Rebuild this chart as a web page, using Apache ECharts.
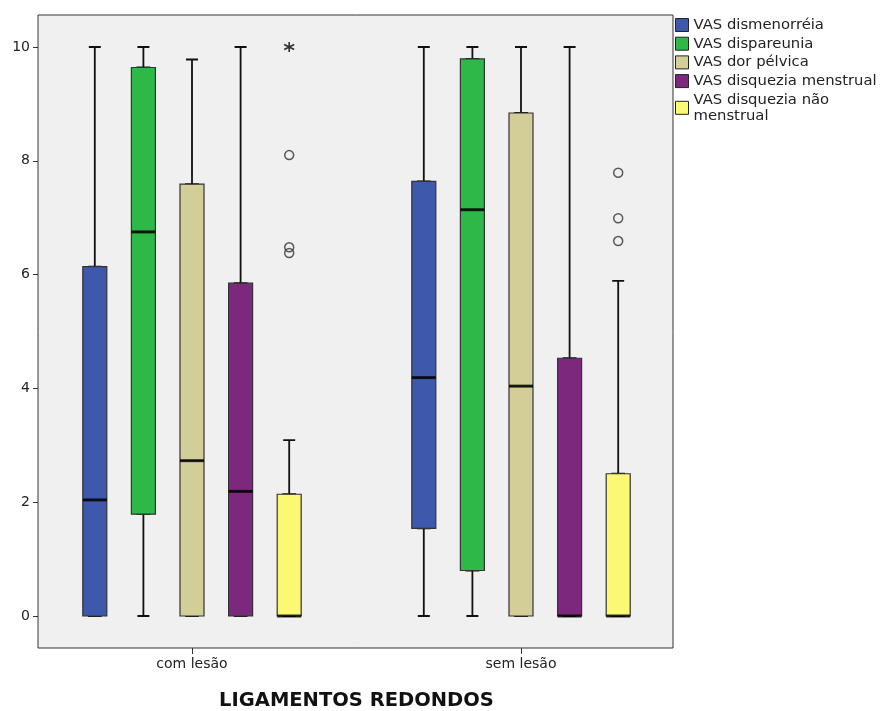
<!DOCTYPE html>
<html><head><meta charset="utf-8">
<script src="https://cdn.jsdelivr.net/npm/echarts@6/dist/echarts.min.js"></script>
<style>html,body{margin:0;padding:0;background:#fff}#c{width:880px;height:711px}</style>
</head><body><div id="c"></div>
<script>
// ---- data ----
const categories = ['com lesão', 'sem lesão'];
const seriesNames = ['VAS dismenorréia', 'VAS dispareunia', 'VAS dor pélvica', 'VAS disquezia menstrual', 'VAS disquezia não\nmenstrual'];
// [min, Q1, median, Q3, max] for each category
const vasDismenorreia = [[0, 0, 2.04, 6.14, 10], [0, 1.54, 4.19, 7.64, 10]];
const vasDispareunia = [[0, 1.79, 6.75, 9.64, 10], [0, 0.8, 7.14, 9.79, 10]];
const vasDorPelvica = [[0, 0, 2.73, 7.59, 9.78], [0, 0, 4.04, 8.84, 10]];
const vasDisqMenstrual = [[0, 0, 2.19, 5.85, 10], [0, 0, 0, 4.53, 10]];
const vasDisqNaoMenstrual = [[0, 0, 0, 2.14, 3.09], [0, 0, 0, 2.5, 5.89]];
const outlierCategory = ['com lesão', 'com lesão', 'com lesão', 'sem lesão', 'sem lesão', 'sem lesão'];
const outlierValues = [8.1, 6.48, 6.38, 7.79, 6.99, 6.59];
const extremeCategory = ['com lesão'];
const extremeValues = [10];
const yMin = 0, yMax = 10, yStep = 2;
const xTitle = 'LIGAMENTOS REDONDOS';

// ---- styling / layout ----
const allSeries = [vasDismenorreia, vasDispareunia, vasDorPelvica, vasDisqMenstrual, vasDisqNaoMenstrual];
const colors = ['#3e58ac', '#2eb848', '#d3ce97', '#7c287d', '#fbf873'];
const FONT = 'DejaVu Sans';
const groupLeft = 192, groupSpan = 329, boxStep = 48.6;
const dataTop = 47, dataHeight = 569;
const frame = {left: 38, right: 207, top: 15, bottom: 63};
const boxW = 24, capW = 12;

const grids = [], xAxes = [], yAxes = [], series = [];
allSeries.forEach((arr, i) => {
  grids.push({left: groupLeft + (i - 2) * boxStep, width: groupSpan, top: dataTop, height: dataHeight, outerBoundsMode: 'none'});
  xAxes.push({gridIndex: i, type: 'category', data: categories, boundaryGap: false, show: false});
  xAxes.push({gridIndex: i, type: 'category', data: categories, boundaryGap: false, show: false});
  yAxes.push({gridIndex: i, type: 'value', min: yMin, max: yMax, show: false, splitLine: {show: false}});

  series.push({
    name: 'whisker' + i, type: 'boxplot', xAxisIndex: 2 * i + 1, yAxisIndex: i,
    boxWidth: [capW, capW], data: arr, z: 2, silent: true,
    itemStyle: {color: 'rgba(0,0,0,0)', borderColor: '#111', borderWidth: 1.8},
    emphasis: {disabled: true}
  });
  series.push({
    name: seriesNames[i], type: 'boxplot', xAxisIndex: 2 * i, yAxisIndex: i,
    boxWidth: [boxW, boxW], data: arr.map(d => [d[1], d[1], d[2], d[3], d[3]]), z: 3, silent: true,
    itemStyle: {color: colors[i], borderColor: '#333', borderWidth: 1.2},
    emphasis: {disabled: true}
  });
  series.push({
    name: 'median' + i, type: 'scatter', xAxisIndex: 2 * i, yAxisIndex: i,
    symbol: 'rect', symbolSize: [boxW, 3], z: 4, silent: true,
    data: arr.map((d, j) => [categories[j], d[2]]),
    itemStyle: {color: '#000'}
  });
});
// outliers belong to the yellow series (index 4)
series.push({
  name: 'outliers', type: 'scatter', xAxisIndex: 8, yAxisIndex: 4, symbol: 'circle', symbolSize: 9, z: 5, silent: true,
  data: outlierValues.map((v, k) => [outlierCategory[k], v]),
  itemStyle: {color: 'rgba(0,0,0,0)', borderColor: '#333', borderWidth: 1.5}
});
series.push({
  name: 'extremes', type: 'scatter', xAxisIndex: 8, yAxisIndex: 4, z: 5, silent: true,
  symbol: 'path://M5 0 L5 10 M0.67 2.5 L9.33 7.5 M0.67 7.5 L9.33 2.5', symbolSize: 10,
  data: extremeValues.map((v, k) => [extremeCategory[k], v]),
  itemStyle: {color: 'rgba(0,0,0,0)', borderColor: '#000', borderWidth: 1.6}
});
// frame grid (index 5)
grids.push(Object.assign({show: true, backgroundColor: '#f0f0f0', borderColor: '#333', borderWidth: 1, z: 0, outerBoundsMode: 'none'}, frame));
xAxes.push({gridIndex: 5, type: 'value', show: false});
yAxes.push({gridIndex: 5, type: 'value', show: false});
// value-axis grid (index 6)
grids.push({left: frame.left, right: frame.right, top: dataTop, height: dataHeight, outerBoundsMode: 'none'});
xAxes.push({gridIndex: 6, type: 'value', show: false});
yAxes.push({
  gridIndex: 6, type: 'value', min: yMin, max: yMax, interval: yStep, position: 'left',
  axisLine: {show: false},
  axisTick: {show: true, inside: false, length: 5, lineStyle: {color: '#333', width: 1}},
  axisLabel: {fontSize: 14, color: '#222', margin: 8, fontFamily: FONT},
  splitLine: {show: false}
});
// category-axis grid (index 7)
grids.push({left: groupLeft, width: groupSpan, top: frame.top, bottom: frame.bottom, outerBoundsMode: 'none'});
xAxes.push({
  gridIndex: 7, type: 'category', data: categories, boundaryGap: false, position: 'bottom',
  axisLine: {show: false},
  axisTick: {show: true, inside: false, length: 6, lineStyle: {color: '#333', width: 1}},
  axisLabel: {fontSize: 14, color: '#222', margin: 9, fontFamily: FONT},
  splitLine: {show: false},
  name: xTitle, nameLocation: 'middle', nameGap: 43,
  nameTextStyle: {fontSize: 19.5, fontWeight: 'bold', color: '#111', fontFamily: FONT}
});
yAxes.push({gridIndex: 7, type: 'value', show: false});

const chart = echarts.init(document.getElementById('c'));
chart.setOption({
  animation: false,
  textStyle: {fontFamily: FONT},
  grid: grids, xAxis: xAxes, yAxis: yAxes, series: series,
  legend: {
    orient: 'vertical', left: 675, top: 17, padding: 0, itemWidth: 13, itemHeight: 13, itemGap: 2.7,
    selectedMode: false,
    textStyle: {fontSize: 14.8, color: '#222', fontFamily: FONT, lineHeight: 16},
    data: seriesNames.map((n, i) => ({name: n, icon: 'rect', itemStyle: {color: colors[i], borderColor: '#222', borderWidth: 1}}))
  }
});
</script></body></html>
